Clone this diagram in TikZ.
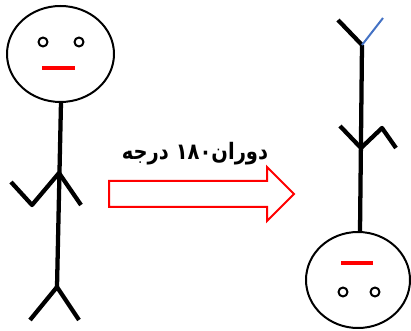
\documentclass[tikz,border=0pt]{standalone}
\usepackage{fontspec}
\newfontfamily\arabicfont[Script=Arabic]{DejaVu Sans}
\TeXXeTstate=1

\definecolor{legblue}{RGB}{68,114,196}
\tikzset{
  limb/.style={line width=3.2pt},
  outline/.style={line width=1.5pt},
  mouth/.style={red, line width=2.3pt},
}

\begin{document}
\begin{tikzpicture}[x=0.75pt, y=-0.75pt, line join=round]
  % Frame in pixel units
  \useasboundingbox (0,0) rectangle (411,331);

  % Standing figure
  \draw[outline] (60.5,54) ellipse (53.5 and 48);
  \draw[outline] (43,42) circle (4.5) (79,42) circle (4.5);
  \draw[mouth] (42,68) -- (75,68);
  \draw[limb] (61,102) -- (57,287);
  \draw[limb] (11,182) -- (32,205) -- (59,173) -- (81,205);
  \draw[limb] (30,320) -- (57,287) -- (79,320);

  % Label and red arrow
  \node[font=\arabicfont\bfseries\fontsize{17}{20}\selectfont, xscale=0.86, transform shape]
    (label) at (195,154) {\beginR دوران\beginL ۱۸۰\endL{} درجه\endR};
  \draw[red, line width=1.5pt, line join=miter]
    (109,181) -- (267,181) -- (267,167) -- (294,194) -- (267,221)
    -- (267,207) -- (109,207) -- cycle;

  % Figure turned upside down
  \draw[outline] (358,280) ellipse (52 and 48);
  \draw[outline] (343,292) circle (4.5) (375,292) circle (4.5);
  \draw[mouth] (341,263) -- (373,263);
  \draw[limb] (362,45) -- (360,232);
  \draw[limb] (340,126) -- (361,148) -- (382,128) -- (396,148);
  \draw[limb] (338,20) -- (362,45);
  \draw[line width=1.5pt, legblue] (362,45) -- (383,18);
\end{tikzpicture}
\end{document}
